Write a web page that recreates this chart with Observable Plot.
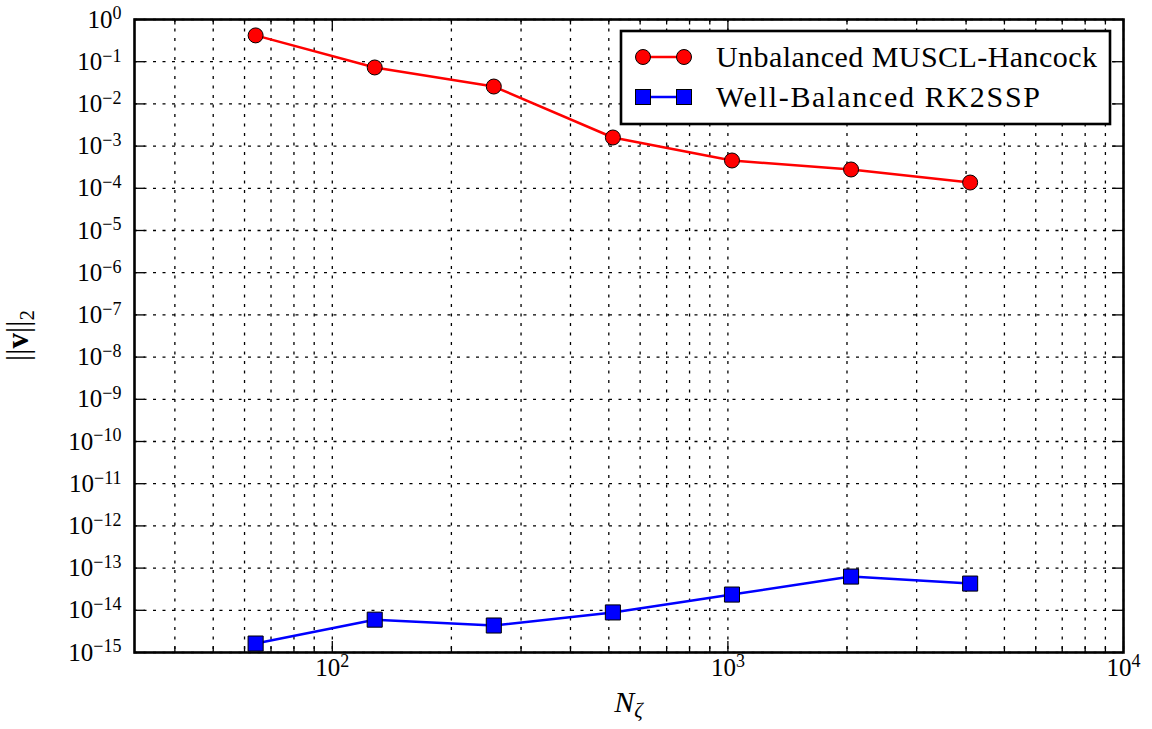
<!DOCTYPE html>
<html>
<head>
<meta charset="utf-8">
<script src="https://cdn.jsdelivr.net/npm/d3@7"></script>
<script src="https://cdn.jsdelivr.net/npm/@observablehq/plot@0.6"></script>
<style>
  html, body { margin: 0; padding: 0; background: white; }
  #chart { width: 1152px; height: 729px; }
</style>
</head>
<body>
<div id="chart"></div>
<script>
// ---- data ----
const nZeta = [64, 128, 256, 512, 1024, 2048, 4096];
const unbalancedMUSCL = [0.42, 0.073, 0.0258, 0.0016, 4.56e-4, 2.79e-4, 1.37e-4];
const wellBalancedRK2 = [1.63e-15, 6.0e-15, 4.36e-15, 8.9e-15, 2.36e-14, 6.3e-14, 4.3e-14];
const seriesNames = ["Unbalanced MUSCL-Hancock", "Well-Balanced RK2SSP"];
const xMajorTicks = [100, 1000, 10000];
const xMinorTicks = [40, 50, 60, 70, 80, 90, 200, 300, 400, 500, 600, 700, 800, 900,
                     2000, 3000, 4000, 5000, 6000, 7000, 8000, 9000];
const yExponents = [0, -1, -2, -3, -4, -5, -6, -7, -8, -9, -10, -11, -12, -13, -14, -15];
const yMajorTicks = yExponents.map(e => Math.pow(10, e));

const W = 1152, H = 729;
const mL = 134, mR = 29, mT = 19, mB = 77;
const innerW = W - mL - mR, innerH = H - mT - mB;
const font = "'Liberation Serif', 'DejaVu Serif', serif";

const redRows = nZeta.map((n, i) => ({n, v: unbalancedMUSCL[i]}));
const blueRows = nZeta.map((n, i) => ({n, v: wellBalancedRK2[i]}));

const gridStyle = {stroke: "black", strokeOpacity: 1, strokeWidth: 1.3, strokeDasharray: "3,6.5"};
const allX = [...xMinorTicks, ...xMajorTicks];
const supLabel = e => "10|" + String(e).replace("-", "\u2212");

const plot = Plot.plot({
  width: W, height: H,
  marginLeft: mL, marginRight: mR, marginTop: mT, marginBottom: mB,
  style: {fontFamily: font, fontSize: "25px", background: "white", color: "black"},
  x: {type: "log", domain: [Math.pow(10, 1.5), 10000], axis: null},
  y: {type: "log", domain: [1e-15, 1], axis: null},
  marks: [
    Plot.gridX(allX, gridStyle),
    Plot.gridY(yMajorTicks, gridStyle),
    // inward ticks
    Plot.ruleX(xMajorTicks, {x: d => d, insetTop: innerH - 11, stroke: "black", strokeWidth: 1.3}),
    Plot.ruleX(xMajorTicks, {x: d => d, insetBottom: innerH - 11, stroke: "black", strokeWidth: 1.3}),
    Plot.ruleX(xMinorTicks, {x: d => d, insetTop: innerH - 5.5, stroke: "black", strokeWidth: 1.3}),
    Plot.ruleX(xMinorTicks, {x: d => d, insetBottom: innerH - 5.5, stroke: "black", strokeWidth: 1.3}),
    Plot.ruleY(yMajorTicks, {y: d => d, insetRight: innerW - 11, stroke: "black", strokeWidth: 1.3}),
    Plot.ruleY(yMajorTicks, {y: d => d, insetLeft: innerW - 11, stroke: "black", strokeWidth: 1.3}),
    // tick labels
    Plot.text(xMajorTicks, {x: d => d, frameAnchor: "bottom", dy: 23, fontSize: 25,
      textAnchor: "middle", text: d => supLabel(Math.round(Math.log10(d)))}),
    Plot.text(yMajorTicks, {y: d => d, frameAnchor: "left", dx: -13, fontSize: 25,
      textAnchor: "end", text: d => supLabel(Math.round(Math.log10(d)))}),
    // series
    Plot.line(redRows, {x: "n", y: "v", stroke: "#ff0000", strokeWidth: 2.5}),
    Plot.dot(redRows, {x: "n", y: "v", r: 7.5, fill: "#ff0000", stroke: "black", strokeWidth: 1}),
    Plot.line(blueRows, {x: "n", y: "v", stroke: "#0000ff", strokeWidth: 2.5}),
    Plot.dot(blueRows, {x: "n", y: "v", r: 8.5, symbol: "square", fill: "#0000ff", stroke: "black", strokeWidth: 1}),
    Plot.frame({stroke: "black", strokeWidth: 2.6})
  ]
});

document.getElementById("chart").appendChild(plot);
const svg = d3.select(plot);

// superscript tick labels
svg.selectAll("text").each(function() {
  const t = d3.select(this);
  const s = t.text();
  if (!s.includes("|")) return;
  const [base, exp] = s.split("|");
  t.text(null);
  t.append("tspan").text(base);
  t.append("tspan").attr("dy", "-0.45em").style("font-size", "18px").text(exp);
});

// axis titles
svg.append("text")
  .attr("transform", `translate(28,${mT + innerH / 2}) rotate(-90)`)
  .attr("text-anchor", "middle")
  .attr("font-family", font).style("font-size", "31px")
  .call(t => {
    t.append("tspan").text("||");
    t.append("tspan").attr("font-weight", "bold").text("v");
    t.append("tspan").text("||");
    t.append("tspan").attr("dy", "0.3em").style("font-size", "21px").text("2");
  });

svg.append("text")
  .attr("x", mL + innerW / 2).attr("y", 712)
  .attr("text-anchor", "middle")
  .attr("font-family", font).style("font-size", "30px").attr("font-style", "italic")
  .call(t => {
    t.append("tspan").text("N");
    t.append("tspan").attr("dy", "0.25em").style("font-size", "21px").text("\u03b6");
  });

// legend
const lg = svg.append("g");
lg.append("rect").attr("x", 621).attr("y", 31).attr("width", 489).attr("height", 93)
  .attr("fill", "white").attr("stroke", "black").attr("stroke-width", 2.6);
const rows = [
  {name: seriesNames[0], color: "#ff0000", shape: "circle", y: 57, len: 381},
  {name: seriesNames[1], color: "#0000ff", shape: "square", y: 97, len: 324}
];
rows.forEach(r => {
  lg.append("line").attr("x1", 643).attr("x2", 684).attr("y1", r.y).attr("y2", r.y)
    .attr("stroke", r.color).attr("stroke-width", 2.5);
  [643, 684].forEach(cx => {
    if (r.shape === "circle") {
      lg.append("circle").attr("cx", cx).attr("cy", r.y).attr("r", 7.5)
        .attr("fill", r.color).attr("stroke", "black").attr("stroke-width", 1);
    } else {
      lg.append("rect").attr("x", cx - 7.5).attr("y", r.y - 7.5).attr("width", 15).attr("height", 15)
        .attr("fill", r.color).attr("stroke", "black").attr("stroke-width", 1);
    }
  });
  lg.append("text").attr("x", 716).attr("y", r.y + 10).attr("text-anchor", "start")
    .attr("font-family", font).style("font-size", "30px")
    .attr("textLength", r.len).attr("lengthAdjust", "spacing").text(r.name);
});
</script>
</body>
</html>
